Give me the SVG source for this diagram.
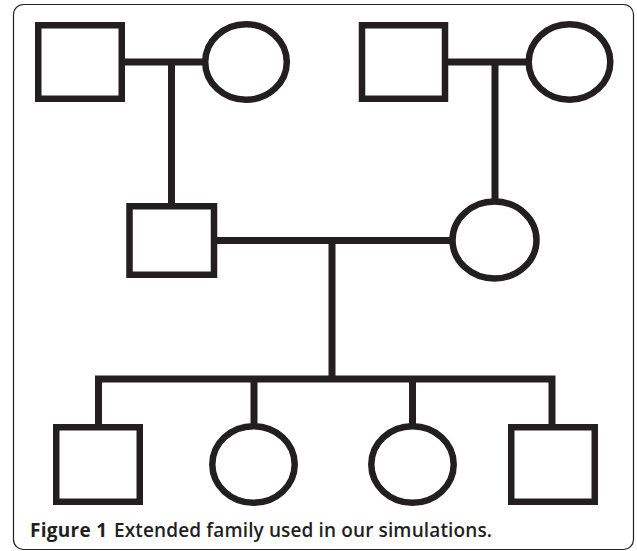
<svg xmlns="http://www.w3.org/2000/svg" width="637" height="551" viewBox="0 0 637 551">
<style>
.sym{fill:#ffffff;stroke:#231f20;stroke-width:6.5}
.con{fill:none;stroke:#231f20;stroke-width:7;stroke-linejoin:miter;stroke-linecap:butt}
.cap{font-family:"Open Sans","Noto Sans","Liberation Sans",sans-serif;font-size:19px;fill:#231f20}
</style>
<rect x="13.5" y="4.5" width="620" height="545" rx="10" ry="10" fill="#ffffff" stroke="#231f20" stroke-width="1.2"/>
<g id="connectors">
<path class="con" d="M125 62 H205"/>
<path class="con" d="M171.5 62 V203"/>
<path class="con" d="M448 62 H529"/>
<path class="con" d="M495 62 V200"/>
<path class="con" d="M217 240.5 H450"/>
<path class="con" d="M332 240.5 V379"/>
<path class="con" d="M98.5 424 V379 H552 V424"/>
<path class="con" d="M254 379 V424"/>
<path class="con" d="M412.5 379 V424"/>
</g>
<g id="gp1-father"><rect class="sym" x="38.25" y="25.25" width="83.5" height="73.5"/></g>
<g id="gp1-mother"><ellipse class="sym" cx="246" cy="62" rx="40.8" ry="37.8"/></g>
<g id="gp2-father"><rect class="sym" x="362" y="25.25" width="83" height="73.5"/></g>
<g id="gp2-mother"><ellipse class="sym" cx="569.5" cy="62" rx="40.8" ry="37.8"/></g>
<g id="father"><rect class="sym" x="129.5" y="206.25" width="84.5" height="68.5"/></g>
<g id="mother"><ellipse class="sym" cx="494.5" cy="240" rx="42" ry="38.5"/></g>
<g id="child1"><rect class="sym" x="56.25" y="427.25" width="83.5" height="74.5"/></g>
<g id="child2"><ellipse class="sym" cx="253.5" cy="464.5" rx="41.2" ry="38.2"/></g>
<g id="child3"><ellipse class="sym" cx="412.5" cy="464.5" rx="41.2" ry="38.2"/></g>
<g id="child4"><rect class="sym" x="511.25" y="427.25" width="83.5" height="74.5"/></g>
<text class="cap" x="30" y="537" font-weight="700" textLength="77" lengthAdjust="spacing">Figure 1</text>
<text class="cap" x="114" y="537" font-weight="600" textLength="378" lengthAdjust="spacing">Extended family used in our simulations.</text>
</svg>
